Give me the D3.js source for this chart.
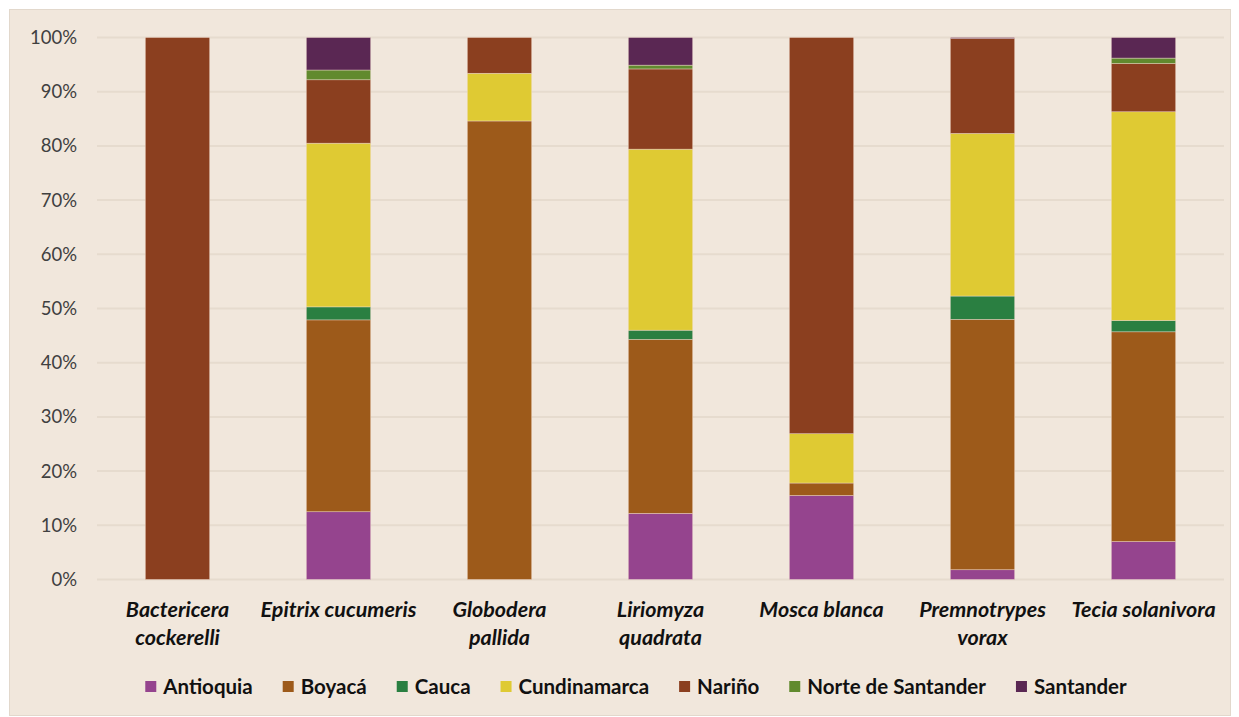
<!DOCTYPE html>
<html>
<head>
<meta charset="utf-8">
<script src="https://cdn.jsdelivr.net/npm/d3@7"></script>
<style>
  html, body { margin: 0; padding: 0; background: #ffffff; }
  svg { display: block; }
</style>
</head>
<body>
<svg id="chart" width="1239" height="717"></svg>
<script>
// ---- data ----
const categories = ["Bactericera cockerelli", "Epitrix cucumeris", "Globodera pallida", "Liriomyza quadrata", "Mosca blanca", "Premnotrypes vorax", "Tecia solanivora"];
const categoryLines = [["Bactericera", "cockerelli"], ["Epitrix cucumeris"], ["Globodera", "pallida"], ["Liriomyza", "quadrata"], ["Mosca blanca"], ["Premnotrypes", "vorax"], ["Tecia solanivora"]];
const seriesNames = ["Antioquia", "Boyacá", "Cauca", "Cundinamarca", "Nariño", "Norte de Santander", "Santander"];
const antioquia    = [0, 12.5, 0, 12.2, 15.5, 1.8, 7.0];
const boyaca       = [0, 35.4, 84.6, 32.1, 2.3, 46.2, 38.7];
const cauca        = [0, 2.4, 0, 1.7, 0, 4.3, 2.1];
const cundinamarca = [0, 30.2, 8.8, 33.4, 9.1, 30.0, 38.5];
const narino       = [100, 11.7, 6.6, 14.8, 73.1, 17.5, 8.9];
const norteSantander = [0, 1.8, 0, 0.7, 0, 0, 1.0];
const santander    = [0, 6.0, 0, 5.1, 0, 0.2, 3.8];
const yTicks = [0, 0.1, 0.2, 0.3, 0.4, 0.5, 0.6, 0.7, 0.8, 0.9, 1.0];
const colors = ["#95448e", "#9d5a1a", "#2a7f41", "#dfca33", "#8b3f1f", "#618a2e", "#5a2753"];

const seriesValues = [antioquia, boyaca, cauca, cundinamarca, narino, norteSantander, santander];

// ---- build table ----
const table = categories.map((c, i) => {
  const row = { category: c };
  seriesNames.forEach((s, j) => row[s] = seriesValues[j][i]);
  return row;
});
const stacked = d3.stack().keys(seriesNames)
  .value((d, k) => d[k] / seriesNames.reduce((a, s) => a + d[s], 0))(table);

const svg = d3.select("#chart");
const font = "Lato, 'Open Sans', sans-serif";

// panel background
svg.append("rect").attr("x", 9.5).attr("y", 9.5).attr("width", 1221).attr("height", 706)
  .attr("fill", "#f1e7dc").attr("stroke", "#e2d8cc").attr("stroke-width", 1);

const margin = { left: 97, right: 1224, top: 37.5, bottom: 579.5 };
const x = d3.scaleBand().domain(categories).range([margin.left, margin.right])
  .paddingInner(0.6).paddingOuter(0.3);
const y = d3.scaleLinear().domain([0, 1]).range([margin.bottom, margin.top]);

// gridlines
svg.append("g").selectAll("line").data(yTicks).join("line")
  .attr("x1", margin.left).attr("x2", margin.right)
  .attr("y1", d => y(d)).attr("y2", d => y(d))
  .attr("stroke", "#e6dbce").attr("stroke-width", 2);

// y axis
const yAxis = d3.axisLeft(y).tickValues(yTicks).tickFormat(d3.format(".0%")).tickSize(0).tickPadding(0);
const yg = svg.append("g").attr("transform", `translate(77,0)`).call(yAxis);
yg.select(".domain").remove();
yg.selectAll("text").attr("font-family", font).attr("font-size", 18.5).attr("fill", "#404040");

// bars
svg.append("g").selectAll("g").data(stacked).join("g")
  .attr("fill", (d, i) => colors[i])
  .selectAll("rect").data(d => d).join("rect")
  .attr("x", d => x(d.data.category))
  .attr("width", x.bandwidth())
  .attr("y", d => y(d[1]))
  .attr("height", d => Math.max(0, y(d[0]) - y(d[1])))
  .attr("stroke", "#f3ddd0").attr("stroke-width", 0.6).attr("stroke-opacity", 0.7);

// x axis labels
const xAxis = d3.axisBottom(x).tickSize(0).tickPadding(0);
const xg = svg.append("g").attr("transform", `translate(0,${margin.bottom})`).call(xAxis);
xg.select(".domain").remove();
xg.selectAll("text")
  .attr("font-family", font).attr("font-size", 21.5).attr("font-weight", "bold")
  .attr("font-style", "italic").attr("fill", "#111")
  .each(function(d) {
    const t = d3.select(this);
    t.text(null).attr("y", 0).attr("dy", null);
    categoryLines[categories.indexOf(d)].forEach((l, i) => {
      t.append("tspan").attr("x", 0).attr("y", 37 + i * 28).text(l);
    });
  });

// legend
const legend = svg.append("g");
let lx = 0;
const gap = 30;
seriesNames.forEach((s, i) => {
  const g = legend.append("g");
  g.append("rect").attr("x", 0).attr("y", -6).attr("width", 11).attr("height", 11).attr("fill", colors[i]);
  const tx = g.append("text").attr("x", 18).attr("y", 0).attr("dy", "0.35em")
    .attr("font-family", font).attr("font-size", 20.5).attr("font-weight", "bold").attr("fill", "#111").text(s);
  const w = 18 + tx.node().getComputedTextLength();
  g.attr("transform", `translate(${lx},0)`);
  lx += w + gap;
});
const totalW = lx - gap;
legend.attr("transform", `translate(${636 - totalW / 2},687)`);
</script>
</body>
</html>
